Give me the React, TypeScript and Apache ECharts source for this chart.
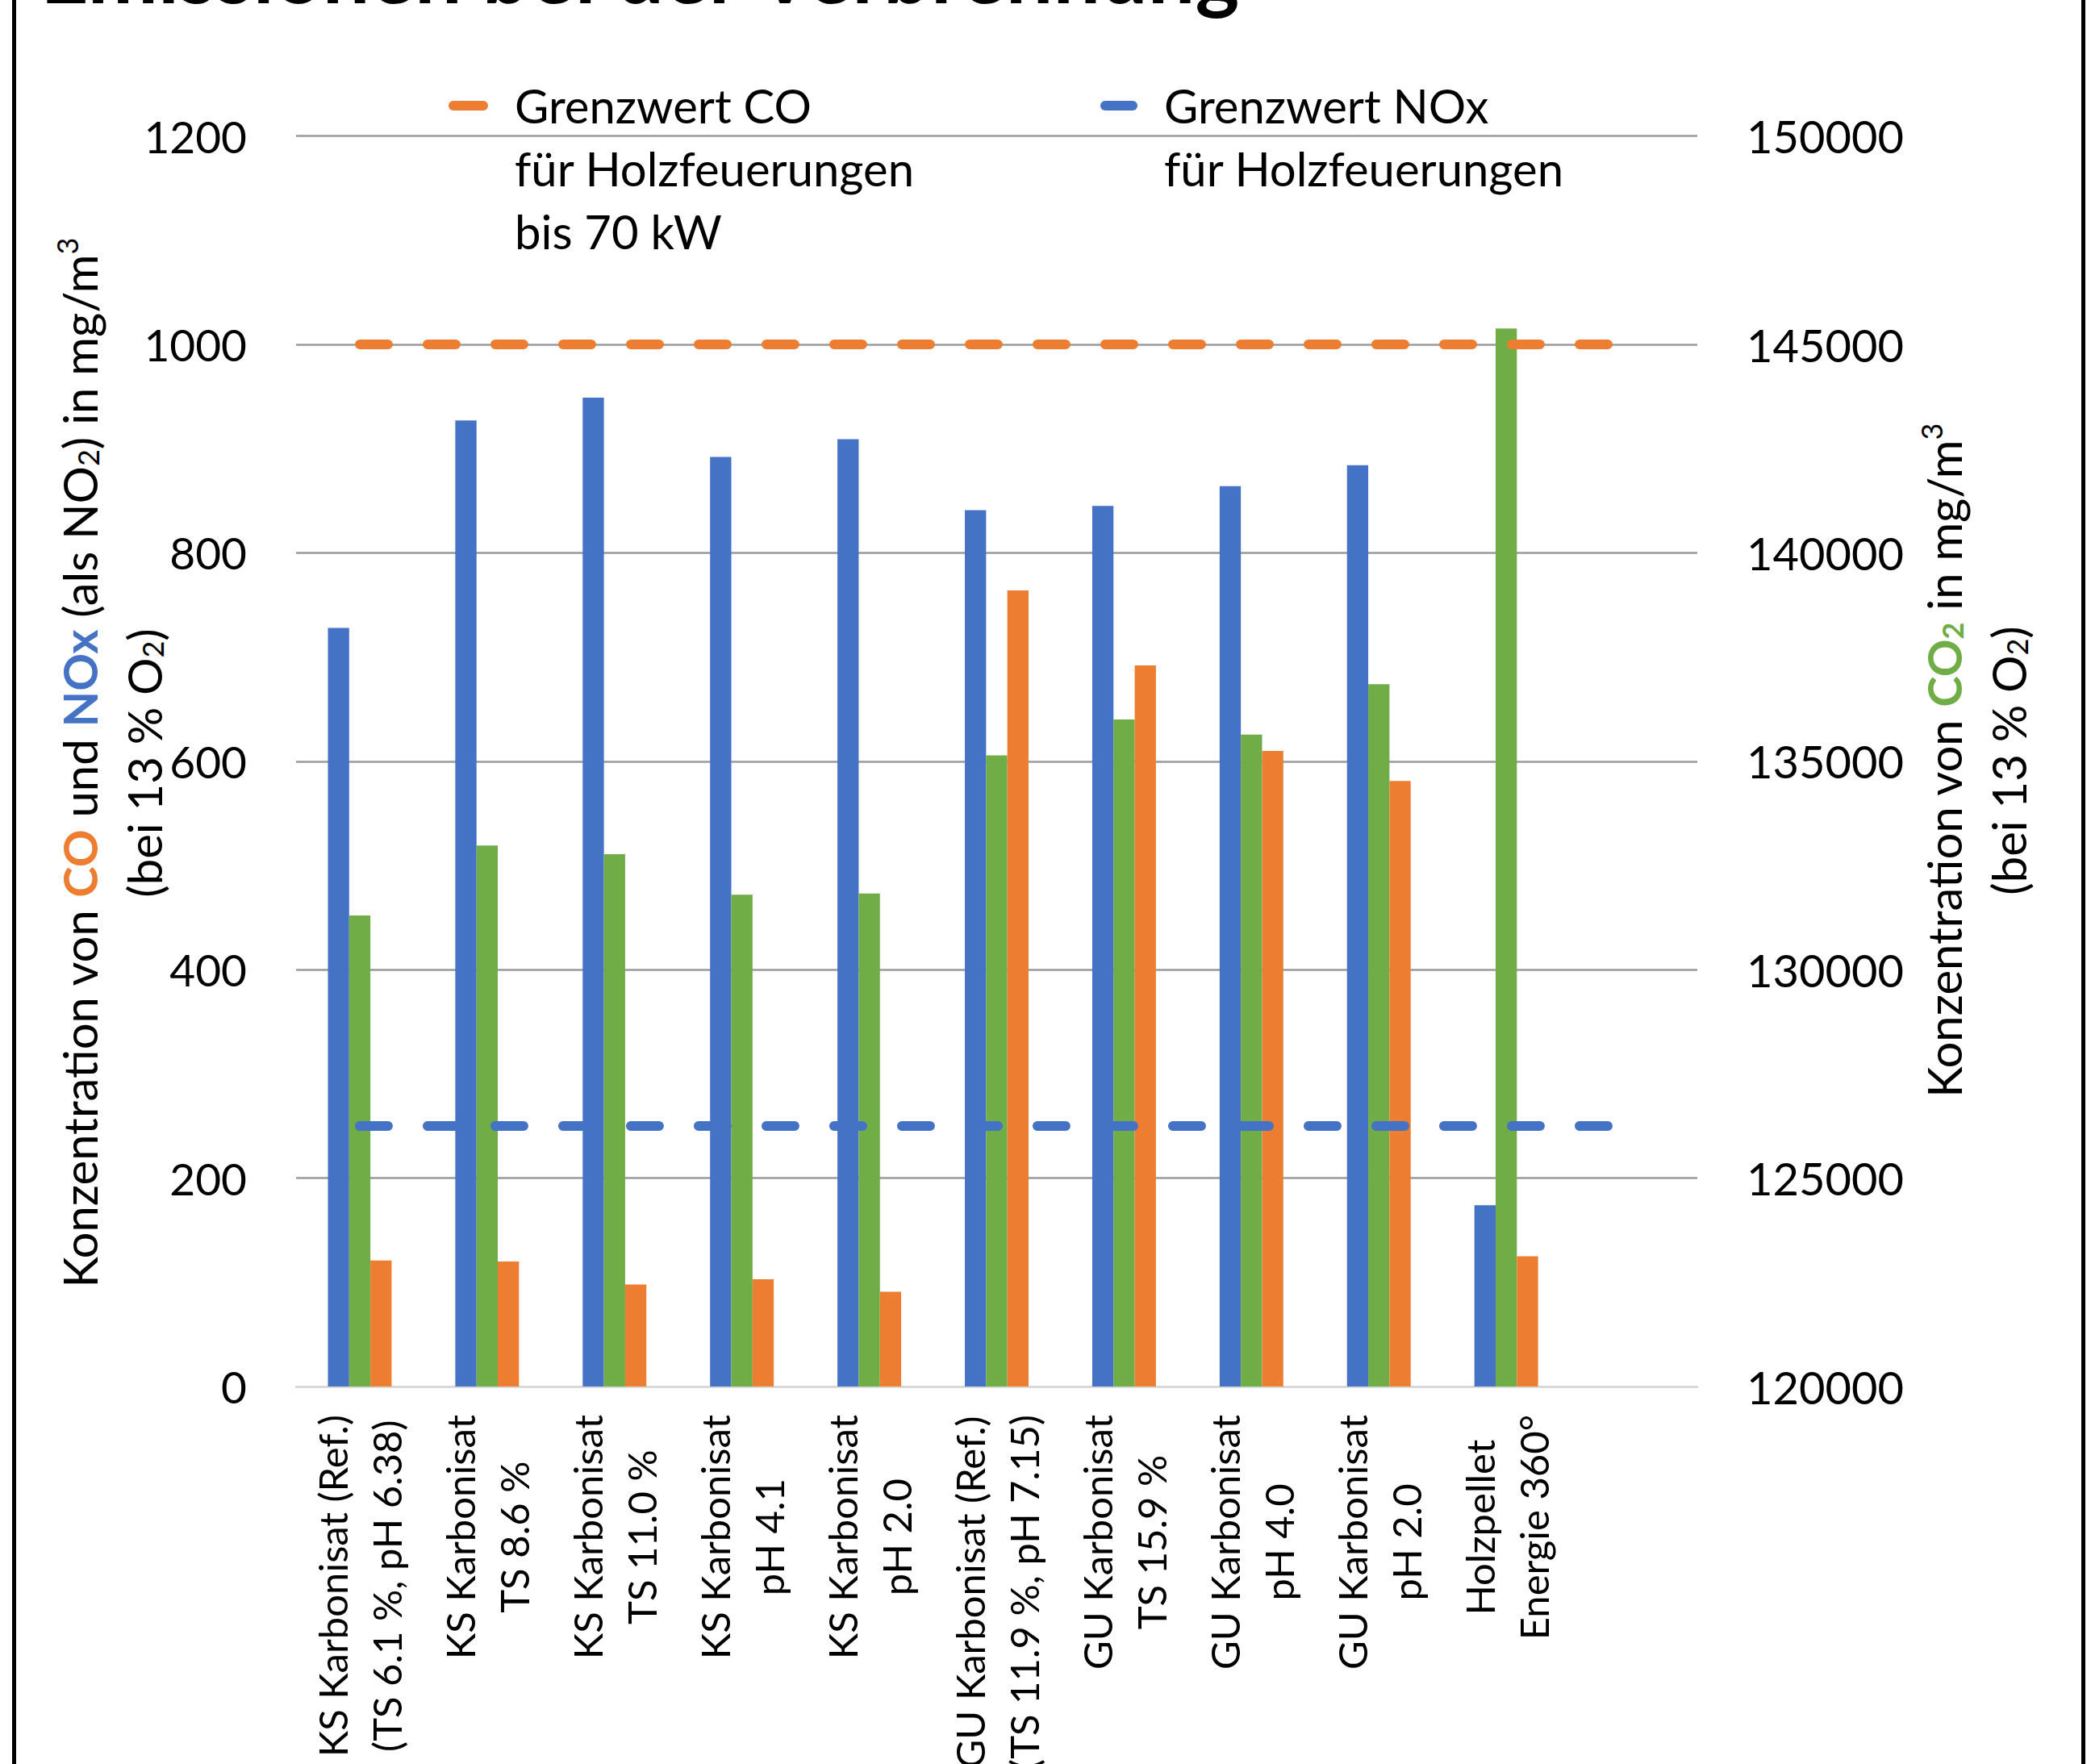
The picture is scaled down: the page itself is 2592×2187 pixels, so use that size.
import React, { useEffect, useRef } from 'react';
import * as echarts from 'echarts';

const categories: string[] = [
  'KS Karbonisat (Ref.)\n(TS 6.1 %, pH 6.38)',
  'KS Karbonisat\nTS 8.6 %',
  'KS Karbonisat\nTS 11.0 %',
  'KS Karbonisat\npH 4.1',
  'KS Karbonisat\npH 2.0',
  'GU Karbonisat (Ref.)\n(TS 11.9 %, pH 7.15)',
  'GU Karbonisat\nTS 15.9 %',
  'GU Karbonisat\npH 4.0',
  'GU Karbonisat\npH 2.0',
  'Holzpellet\nEnergie 360°',
  '',
];

// NOx (left axis, mg/m3)
const noxValues: number[] = [728, 927, 949, 892, 909, 841, 845, 864, 884, 174];
// CO2 (right axis, mg/m3)
const co2Values: number[] = [131300, 132980, 132770, 131800, 131830, 135140, 136000, 135640, 136850, 145380];
// CO (left axis, mg/m3)
const coValues: number[] = [121, 120, 98, 103, 91, 764, 692, 610, 581, 125];

// limit values (dashed lines)
const coLimit: number[] = [1000, 1000, 1000, 1000, 1000, 1000, 1000, 1000, 1000, 1000, 1000];
const noxLimit: number[] = [250, 250, 250, 250, 250, 250, 250, 250, 250, 250, 250];

const leftAxis = { min: 0, max: 1200, interval: 200 };
const rightAxis = { min: 120000, max: 150000, interval: 5000 };

const titleText = 'Emissionen bei der Verbrennung';
const legendCO = 'Grenzwert CO\nfür Holzfeuerungen\nbis 70 kW';
const legendNOx = 'Grenzwert NOx\nfür Holzfeuerungen';

const BLUE = '#4472C4';
const GREEN = '#70AD47';
const ORANGE = '#ED7D31';
const FONT = 'Lato';

export default function App() {
  const ref = useRef<HTMLDivElement>(null);
  useEffect(() => {
    if (!ref.current) return;
    const chart = echarts.init(ref.current, undefined, { renderer: 'svg' });
    const subStyle = { fontSize: 36, fontFamily: FONT, verticalAlign: 'bottom', height: 58, fill: '#000' };
    const supStyle = { fontSize: 36, fontFamily: FONT, verticalAlign: 'top', height: 50, fill: '#000' };
    const option: any = {
      animation: false,
      backgroundColor: '#ffffff',
      title: {
        text: titleText,
        left: 45,
        top: -94,
        textStyle: { fontFamily: FONT, fontSize: 104, fontWeight: 'bold', color: '#000' },
      },
      grid: {
        left: 367,
        width: 1737,
        top: 168.6,
        height: 1550.4,
        containLabel: false,
        outerBoundsMode: 'none',
      },
      xAxis: {
        type: 'category',
        data: categories,
        boundaryGap: true,
        axisLine: { show: true, lineStyle: { color: '#d9d9d9', width: 3 } },
        axisTick: { show: false },
        axisLabel: {
          interval: 0,
          rotate: 90,
          margin: 35,
          color: '#000',
          fontFamily: FONT,
          fontSize: 49,
          lineHeight: 67,
          hideOverlap: false,
          formatter: (v: string) => (v ? v.split('\n').map((l) => `{c|${l}}`).join('\n') : ''),
          rich: {
            c: { align: 'center', fontFamily: FONT, fontSize: 49, lineHeight: 67, color: '#000' },
          },
        },
      },
      yAxis: [
        {
          type: 'value',
          min: leftAxis.min,
          max: leftAxis.max,
          interval: leftAxis.interval,
          axisLine: { show: false },
          axisTick: { show: false },
          splitLine: { show: true, lineStyle: { color: '#9a9a9a', width: 2.5 } },
          axisLabel: {
            color: '#000',
            fontFamily: FONT,
            fontSize: 55,
            margin: 61,
            formatter: (v: number) => String(v),
          },
        },
        {
          type: 'value',
          min: rightAxis.min,
          max: rightAxis.max,
          interval: rightAxis.interval,
          position: 'right',
          axisLine: { show: false },
          axisTick: { show: false },
          splitLine: { show: false },
          axisLabel: {
            color: '#000',
            fontFamily: FONT,
            fontSize: 56,
            margin: 61,
            formatter: (v: number) => String(v),
          },
        },
      ],
      series: [
        {
          name: 'NOx',
          type: 'bar',
          data: noxValues,
          yAxisIndex: 0,
          barCategoryGap: '50%',
          barGap: '0%',
          itemStyle: { color: BLUE },
        },
        {
          name: 'CO2',
          type: 'bar',
          data: co2Values,
          yAxisIndex: 1,
          barCategoryGap: '50%',
          barGap: '0%',
          itemStyle: { color: GREEN },
        },
        {
          name: 'CO',
          type: 'bar',
          data: coValues,
          yAxisIndex: 0,
          barCategoryGap: '50%',
          barGap: '0%',
          itemStyle: { color: ORANGE },
        },
        {
          name: 'Grenzwert CO für Holzfeuerungen bis 70 kW',
          type: 'line',
          data: coLimit,
          yAxisIndex: 0,
          showSymbol: false,
          symbol: 'none',
          z: 5,
          lineStyle: { color: ORANGE, width: 12, type: [35, 49], cap: 'round' },
        },
        {
          name: 'Grenzwert NOx für Holzfeuerungen',
          type: 'line',
          data: noxLimit,
          yAxisIndex: 0,
          showSymbol: false,
          symbol: 'none',
          z: 5,
          lineStyle: { color: BLUE, width: 12, type: [35, 49], cap: 'round' },
        },
      ],
      graphic: [
        {
          type: 'rect',
          shape: { x: 17.5, y: -40, width: 2565, height: 2300 },
          style: { fill: 'none', stroke: '#000', lineWidth: 5 },
          silent: true,
        },
        {
          type: 'line',
          shape: { x1: 562, y1: 131, x2: 599, y2: 131 },
          style: { stroke: ORANGE, lineWidth: 12, lineCap: 'round' },
        },
        {
          type: 'text',
          x: 638,
          y: 91,
          style: {
            text: legendCO,
            fontFamily: FONT,
            fontSize: 58,
            lineHeight: 78,
            fill: '#000',
            align: 'left',
            verticalAlign: 'top',
          },
        },
        {
          type: 'line',
          shape: { x1: 1370, y1: 131, x2: 1404, y2: 131 },
          style: { stroke: BLUE, lineWidth: 12, lineCap: 'round' },
        },
        {
          type: 'text',
          x: 1443,
          y: 91,
          style: {
            text: legendNOx,
            fontFamily: FONT,
            fontSize: 58,
            lineHeight: 78,
            fill: '#000',
            align: 'left',
            verticalAlign: 'top',
          },
        },
        {
          type: 'text',
          x: 138,
          y: 946,
          rotation: Math.PI / 2,
          style: {
            text: 'Konzentration von {co|CO} und {nox|NOx} (als NO{sub|2}) in mg/m{sup|3}\n(bei 13 % O{sub|2})',
            fontFamily: FONT,
            fontSize: 58,
            lineHeight: 80,
            fill: '#000',
            align: 'center',
            verticalAlign: 'middle',
            rich: {
              co: { fill: ORANGE, fontWeight: 'bold', fontFamily: FONT, fontSize: 58 },
              nox: { fill: BLUE, fontWeight: 'bold', fontFamily: FONT, fontSize: 58 },
              sub: subStyle,
              sup: supStyle,
            },
          },
        },
        {
          type: 'text',
          x: 2449,
          y: 943,
          rotation: Math.PI / 2,
          style: {
            text: 'Konzentration von {co2|CO}{co2sub|2} in mg/m{sup|3}\n(bei 13 % O{sub|2})',
            fontFamily: FONT,
            fontSize: 58,
            lineHeight: 80,
            fill: '#000',
            align: 'center',
            verticalAlign: 'middle',
            rich: {
              co2: { fill: GREEN, fontWeight: 'bold', fontFamily: FONT, fontSize: 58 },
              co2sub: { ...subStyle, fill: GREEN, fontWeight: 'bold' },
              sub: subStyle,
              sup: supStyle,
            },
          },
        },
      ],
    };
    chart.setOption(option);
    return () => chart.dispose();
  }, []);
  return (
    <div
      ref={ref}
      style={{ position: 'fixed', left: 0, top: 0, width: 2592, height: 2187, background: '#fff' }}
    />
  );
}
